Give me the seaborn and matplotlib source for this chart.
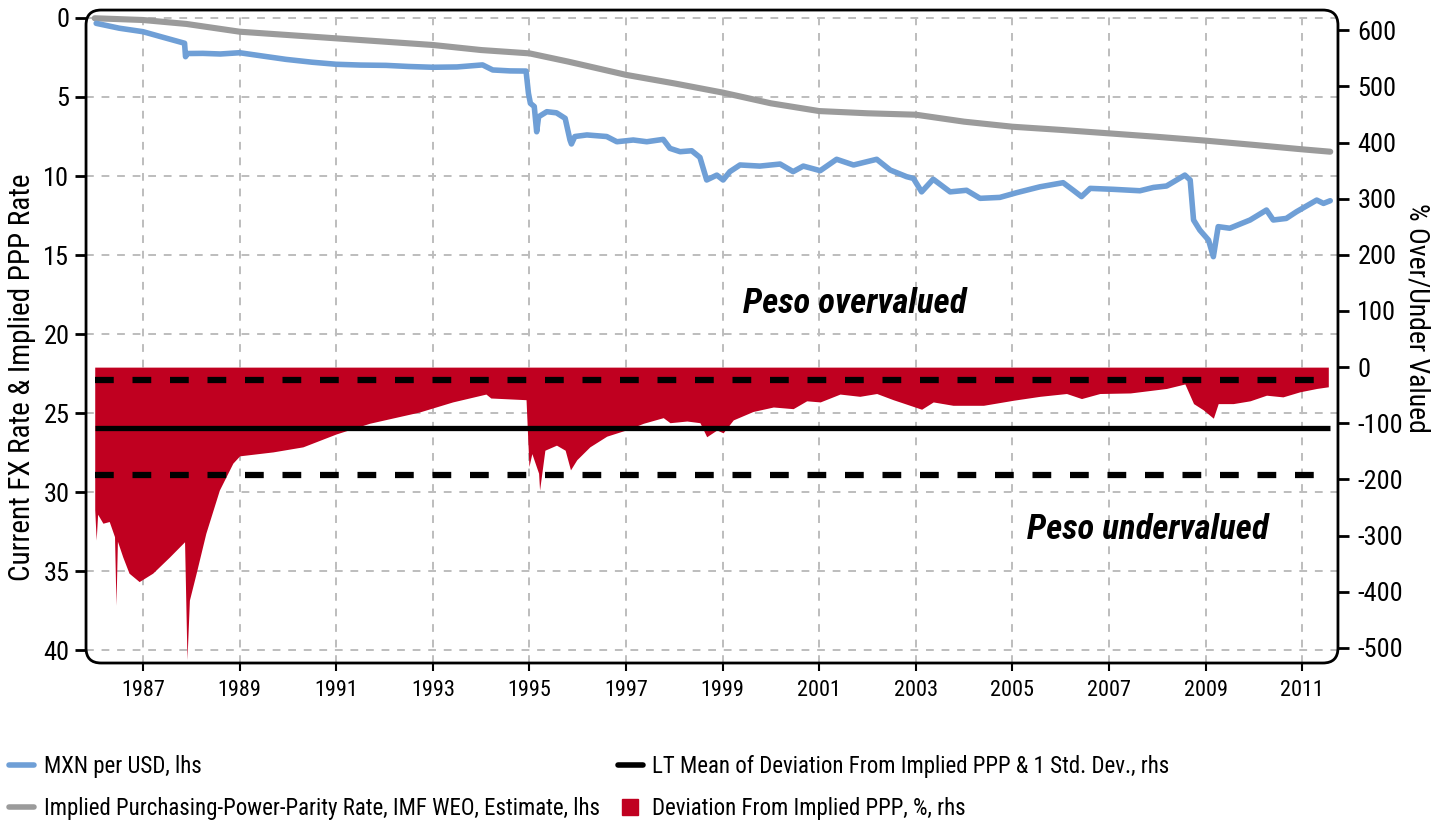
import numpy as np
import pandas as pd
import matplotlib
matplotlib.use("Agg")
import matplotlib.pyplot as plt
from matplotlib.patches import FancyBboxPatch
from matplotlib.lines import Line2D
import seaborn as sns

# MXN per USD (lhs)
fx_years = [1986.03, 1986.51, 1987.00, 1987.41, 1987.86, 1987.88, 1987.92, 1988.24, 1988.60,
            1989.00, 1989.50, 1989.96, 1990.50, 1991.00, 1991.50, 1992.03, 1992.50, 1993.00,
            1993.50, 1994.03, 1994.24, 1994.60, 1994.93, 1994.98, 1995.02, 1995.10, 1995.15,
            1995.19, 1995.36, 1995.56, 1995.74, 1995.84, 1995.87, 1995.94, 1996.19, 1996.60,
            1996.81, 1997.15, 1997.43, 1997.77, 1997.91, 1998.12, 1998.36, 1998.53, 1998.67,
            1998.88, 1999.01, 1999.15, 1999.36, 1999.77, 2000.19, 2000.46, 2000.67, 2001.02,
            2001.36, 2001.71, 2002.19, 2002.47, 2002.81, 2002.95, 2003.12, 2003.36, 2003.71,
            2004.05, 2004.33, 2004.74, 2005.09, 2005.57, 2006.05, 2006.26, 2006.43, 2006.61,
            2007.09, 2007.64, 2007.92, 2008.19, 2008.57, 2008.68, 2008.75, 2008.88, 2009.06,
            2009.16, 2009.26, 2009.50, 2009.92, 2010.26, 2010.40, 2010.67, 2010.88, 2011.30,
            2011.44, 2011.58]
fx_values = [0.34, 0.65, 0.87, 1.22, 1.60, 2.45, 2.25, 2.24, 2.28,
             2.20, 2.42, 2.62, 2.80, 2.93, 2.98, 3.00, 3.07, 3.12,
             3.10, 2.97, 3.29, 3.35, 3.36, 4.77, 5.40, 5.60, 7.20,
             6.25, 5.93, 6.00, 6.35, 7.72, 7.97, 7.50, 7.40, 7.50,
             7.83, 7.72, 7.83, 7.68, 8.25, 8.46, 8.40, 8.82, 10.25,
             9.94, 10.25, 9.72, 9.30, 9.37, 9.24, 9.72, 9.37, 9.66,
             8.94, 9.30, 8.94, 9.62, 10.04, 10.15, 11.00, 10.20, 11.00,
             10.90, 11.41, 11.35, 11.05, 10.68, 10.42, 10.90, 11.30, 10.78,
             10.84, 10.93, 10.72, 10.63, 9.94, 10.25, 12.78, 13.42, 14.05,
             15.10, 13.20, 13.30, 12.78, 12.15, 12.78, 12.68, 12.26, 11.52,
             11.73, 11.56]

# Implied PPP rate, IMF WEO (lhs)
ppp_years = [1986.0, 1987.0, 1987.9, 1989.0, 1990.0, 1991.0, 1992.0, 1993.0, 1994.0,
             1995.0, 1995.8, 1997.0, 1998.0, 1999.0, 2000.0, 2001.0, 2002.0, 2003.0,
             2004.0, 2005.0, 2006.0, 2007.0, 2008.0, 2009.0, 2010.0, 2011.0, 2011.58]
ppp_values = [0.02, 0.13, 0.38, 0.87, 1.08, 1.29, 1.50, 1.71, 2.03,
              2.24, 2.76, 3.60, 4.14, 4.72, 5.40, 5.89, 6.03, 6.12,
              6.56, 6.88, 7.08, 7.30, 7.52, 7.76, 8.03, 8.31, 8.46]

# Deviation from implied PPP, % (rhs)
dev_years = [1986.00, 1986.03, 1986.06, 1986.17, 1986.30, 1986.41, 1986.44, 1986.47, 1986.58,
             1986.71, 1986.92, 1987.20, 1987.55, 1987.86, 1987.91, 1987.96, 1988.10, 1988.30,
             1988.58, 1988.86, 1989.00, 1989.69, 1990.31, 1991.00, 1991.69, 1992.72, 1993.41,
             1994.10, 1994.20, 1994.93, 1994.99, 1995.05, 1995.19, 1995.21, 1995.32, 1995.56,
             1995.74, 1995.85, 1995.98, 1996.25, 1996.60, 1997.00, 1997.36, 1997.77, 1997.91,
             1998.26, 1998.53, 1998.67, 1998.88, 1999.01, 1999.22, 1999.63, 2000.05, 2000.46,
             2000.74, 2001.02, 2001.43, 2001.84, 2002.19, 2002.53, 2002.67, 2003.12, 2003.36,
             2003.77, 2004.40, 2005.02, 2005.57, 2006.12, 2006.43, 2006.81, 2007.44, 2008.19,
             2008.57, 2008.75, 2008.95, 2009.16, 2009.26, 2009.57, 2009.92, 2010.26, 2010.60,
             2010.95, 2011.30, 2011.54]
dev_values = [-254, -308, -262, -278, -275, -302, -424, -310, -338,
              -367, -382, -367, -338, -311, -521, -415, -367, -296,
              -219, -171, -158, -151, -142, -119, -100, -80, -62,
              -48, -55, -58, -177, -154, -189, -219, -148, -139,
              -148, -183, -165, -142, -123, -112, -100, -90, -99,
              -96, -99, -124, -112, -117, -94, -79, -71, -74,
              -60, -62, -48, -52, -47, -58, -62, -75, -62,
              -68, -68, -59, -52, -47, -56, -47, -46, -38,
              -30, -65, -76, -91, -65, -65, -60, -50, -53,
              -44, -38, -35]

dev_mean = -108
dev_std = 85
span_start, span_end = 1986.0, 2011.58

year_ticks = list(range(1987, 2012, 2))

BLUE = "#6F9FD6"
GREY = "#9B9B9B"
RED = "#C00020"

sns.set_theme(style="white")
plt.rcParams["font.family"] = ["Roboto Condensed", "Open Sans Condensed", "Lato", "DejaVu Sans"]
plt.rcParams["font.size"] = 15
for key in ("text.color", "axes.labelcolor", "xtick.color", "ytick.color"):
    plt.rcParams[key] = "black"

fig = plt.figure(figsize=(14.41, 8.23), dpi=100)
ax = fig.add_axes([0.0597, 0.1944, 0.8688, 0.7934])
ax2 = ax.twinx()

fx = pd.DataFrame({"year": fx_years, "rate": fx_values})
ppp = pd.DataFrame({"year": ppp_years, "rate": ppp_values})
sns.lineplot(data=ppp, x="year", y="rate", ax=ax, color=GREY, lw=4.4)
sns.lineplot(data=fx, x="year", y="rate", ax=ax, color=BLUE, lw=4.0)

ax2.fill_between(dev_years, 0, dev_values, color=RED, lw=0)
ax2.hlines(dev_mean, span_start, span_end, color="black", lw=3.8)
for lvl in (dev_mean + dev_std, dev_mean - dev_std):
    ax2.hlines(lvl, span_start, span_end, color="black", lw=4.5, linestyles=(0, (3, 3)))

ax.set_xlim(1985.82, 2011.74)
ax.set_ylim(40.8, -0.5)
ax2.set_ylim(-527, 636)

ax.set_xticks(year_ticks)
ax.set_xticklabels([str(y) for y in year_ticks])
ax.set_yticks(range(0, 41, 5))
ax2.set_yticks(range(-500, 601, 100))
ax2.set_yticklabels([str(v) for v in range(-500, 601, 100)])

ax.grid(True, color="#BDBDBD", lw=1.4, linestyle=(0, (4, 4)))
ax2.grid(False)
for a in (ax, ax2):
    for s in a.spines.values():
        s.set_visible(False)
ax.tick_params(axis="y", left=True, length=8, width=2, color="black", pad=4, labelsize=19)
ax.tick_params(axis="x", bottom=True, length=6, width=1.5, color="black", pad=6, labelsize=16)
ax2.tick_params(axis="y", right=True, length=8, width=2, color="black", pad=6, labelsize=19)

ax.set_xlabel("")
ax.set_ylabel("Current FX Rate & Implied PPP Rate", fontsize=21)
ax.yaxis.set_label_coords(-0.040, 0.437)
ax2.set_ylabel("% Over/Under Valued", fontsize=20, rotation=270, va="bottom")
ax2.yaxis.set_label_coords(1.052, 0.528)

ax2.text(2001.74, 114, "Peso overvalued", ha="center", va="center",
         fontsize=25, fontweight="bold", fontstyle="italic")
ax2.text(2007.81, -290, "Peso undervalued", ha="center", va="center",
         fontsize=25, fontweight="bold", fontstyle="italic")

frame = FancyBboxPatch((0, 0), 1, 1, boxstyle="round,pad=0,rounding_size=0.012",
                       mutation_aspect=1.917, transform=ax.transAxes,
                       facecolor="none", edgecolor="black", lw=2, clip_on=False, zorder=10)
ax2.add_patch(frame)

left_handles = [Line2D([], [], color=BLUE, lw=4), Line2D([], [], color=GREY, lw=4)]
left_labels = ["MXN per USD, lhs", "Implied Purchasing-Power-Parity Rate, IMF WEO, Estimate, lhs"]
right_handles = [Line2D([], [], color="black", lw=4),
                 Line2D([], [], color=RED, marker="s", markersize=11, linestyle="none")]
right_labels = ["LT Mean of Deviation From Implied PPP & 1 Std. Dev., rhs",
                "Deviation From Implied PPP, %, rhs"]
for handles, labels, x0 in ((left_handles, left_labels, 0.0), (right_handles, right_labels, 0.4224)):
    fig.legend(handles, labels, loc="lower left", bbox_to_anchor=(x0, -0.007), frameon=False,
               fontsize=16.5, handlelength=1.1, handletextpad=0.4, labelspacing=0.8,
               borderaxespad=0.0)

fig.savefig("out.png", dpi=100)
